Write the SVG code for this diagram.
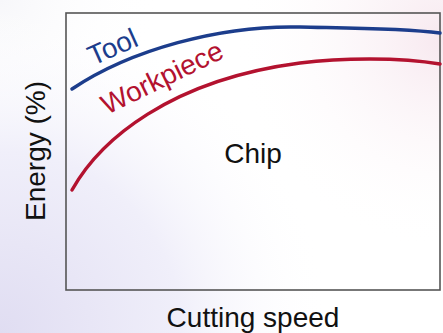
<svg xmlns="http://www.w3.org/2000/svg" width="443" height="333" viewBox="0 0 443 333">
  <defs>
    <radialGradient id="lavender" cx="0" cy="333" r="330" gradientUnits="userSpaceOnUse">
      <stop offset="0" stop-color="#e0ddf2"/>
      <stop offset="0.55" stop-color="#f0effa"/>
      <stop offset="1" stop-color="#ffffff" stop-opacity="0"/>
    </radialGradient>
    <radialGradient id="blush" cx="443" cy="40" r="210" gradientUnits="userSpaceOnUse">
      <stop offset="0" stop-color="#f7e8ef"/>
      <stop offset="1" stop-color="#ffffff" stop-opacity="0"/>
    </radialGradient>
    <radialGradient id="greyish" cx="0" cy="0" r="160" gradientUnits="userSpaceOnUse">
      <stop offset="0" stop-color="#f7f7fa"/>
      <stop offset="1" stop-color="#ffffff" stop-opacity="0"/>
    </radialGradient>
  </defs>
  <style>
    .label { font-family: "Liberation Sans", Arial, Helvetica, sans-serif; font-size: 28px; fill: #111111; }
    .curve { fill: none; stroke-width: 3.5; stroke-linecap: round; }
    .tool { stroke: #1c3d8c; }
    .work { stroke: #b3122f; }
  </style>

  <!-- background wash -->
  <rect width="443" height="333" fill="#ffffff"/>
  <rect width="443" height="333" fill="url(#greyish)"/>
  <rect width="443" height="333" fill="url(#lavender)"/>
  <rect width="443" height="333" fill="url(#blush)"/>

  <!-- plot frame -->
  <g id="frame">
    <rect x="66" y="13" width="374" height="277" fill="none" stroke="#555555" stroke-width="1.6"/>
  </g>

  <!-- energy share curves -->
  <g id="curves">
    <path class="curve tool" d="M72,89 C130,50 220,25 300,27 C340,28 400,28 440,33"/>
    <path class="curve work" d="M72,190 C100,140 170,80 300,63 C340,57.8 400,57 440,64"/>
  </g>

  <!-- curve and region labels -->
  <g id="tool-label">
    <text class="label" x="0" y="0" style="fill:#1c3d8c" transform="translate(93,66) rotate(-24)">Tool</text>
  </g>
  <g id="workpiece-label">
    <text class="label" x="0" y="0" style="fill:#b3122f" transform="translate(107,115) rotate(-26)">Workpiece</text>
  </g>
  <g id="chip-label">
    <text class="label" x="253" y="163" text-anchor="middle">Chip</text>
  </g>

  <!-- axis titles -->
  <g id="y-axis-title">
    <text class="label" x="0" y="0" text-anchor="middle" transform="translate(45,151) rotate(-90)">Energy (%)</text>
  </g>
  <g id="x-axis-title">
    <text class="label" x="253" y="327" text-anchor="middle">Cutting speed</text>
  </g>
</svg>
